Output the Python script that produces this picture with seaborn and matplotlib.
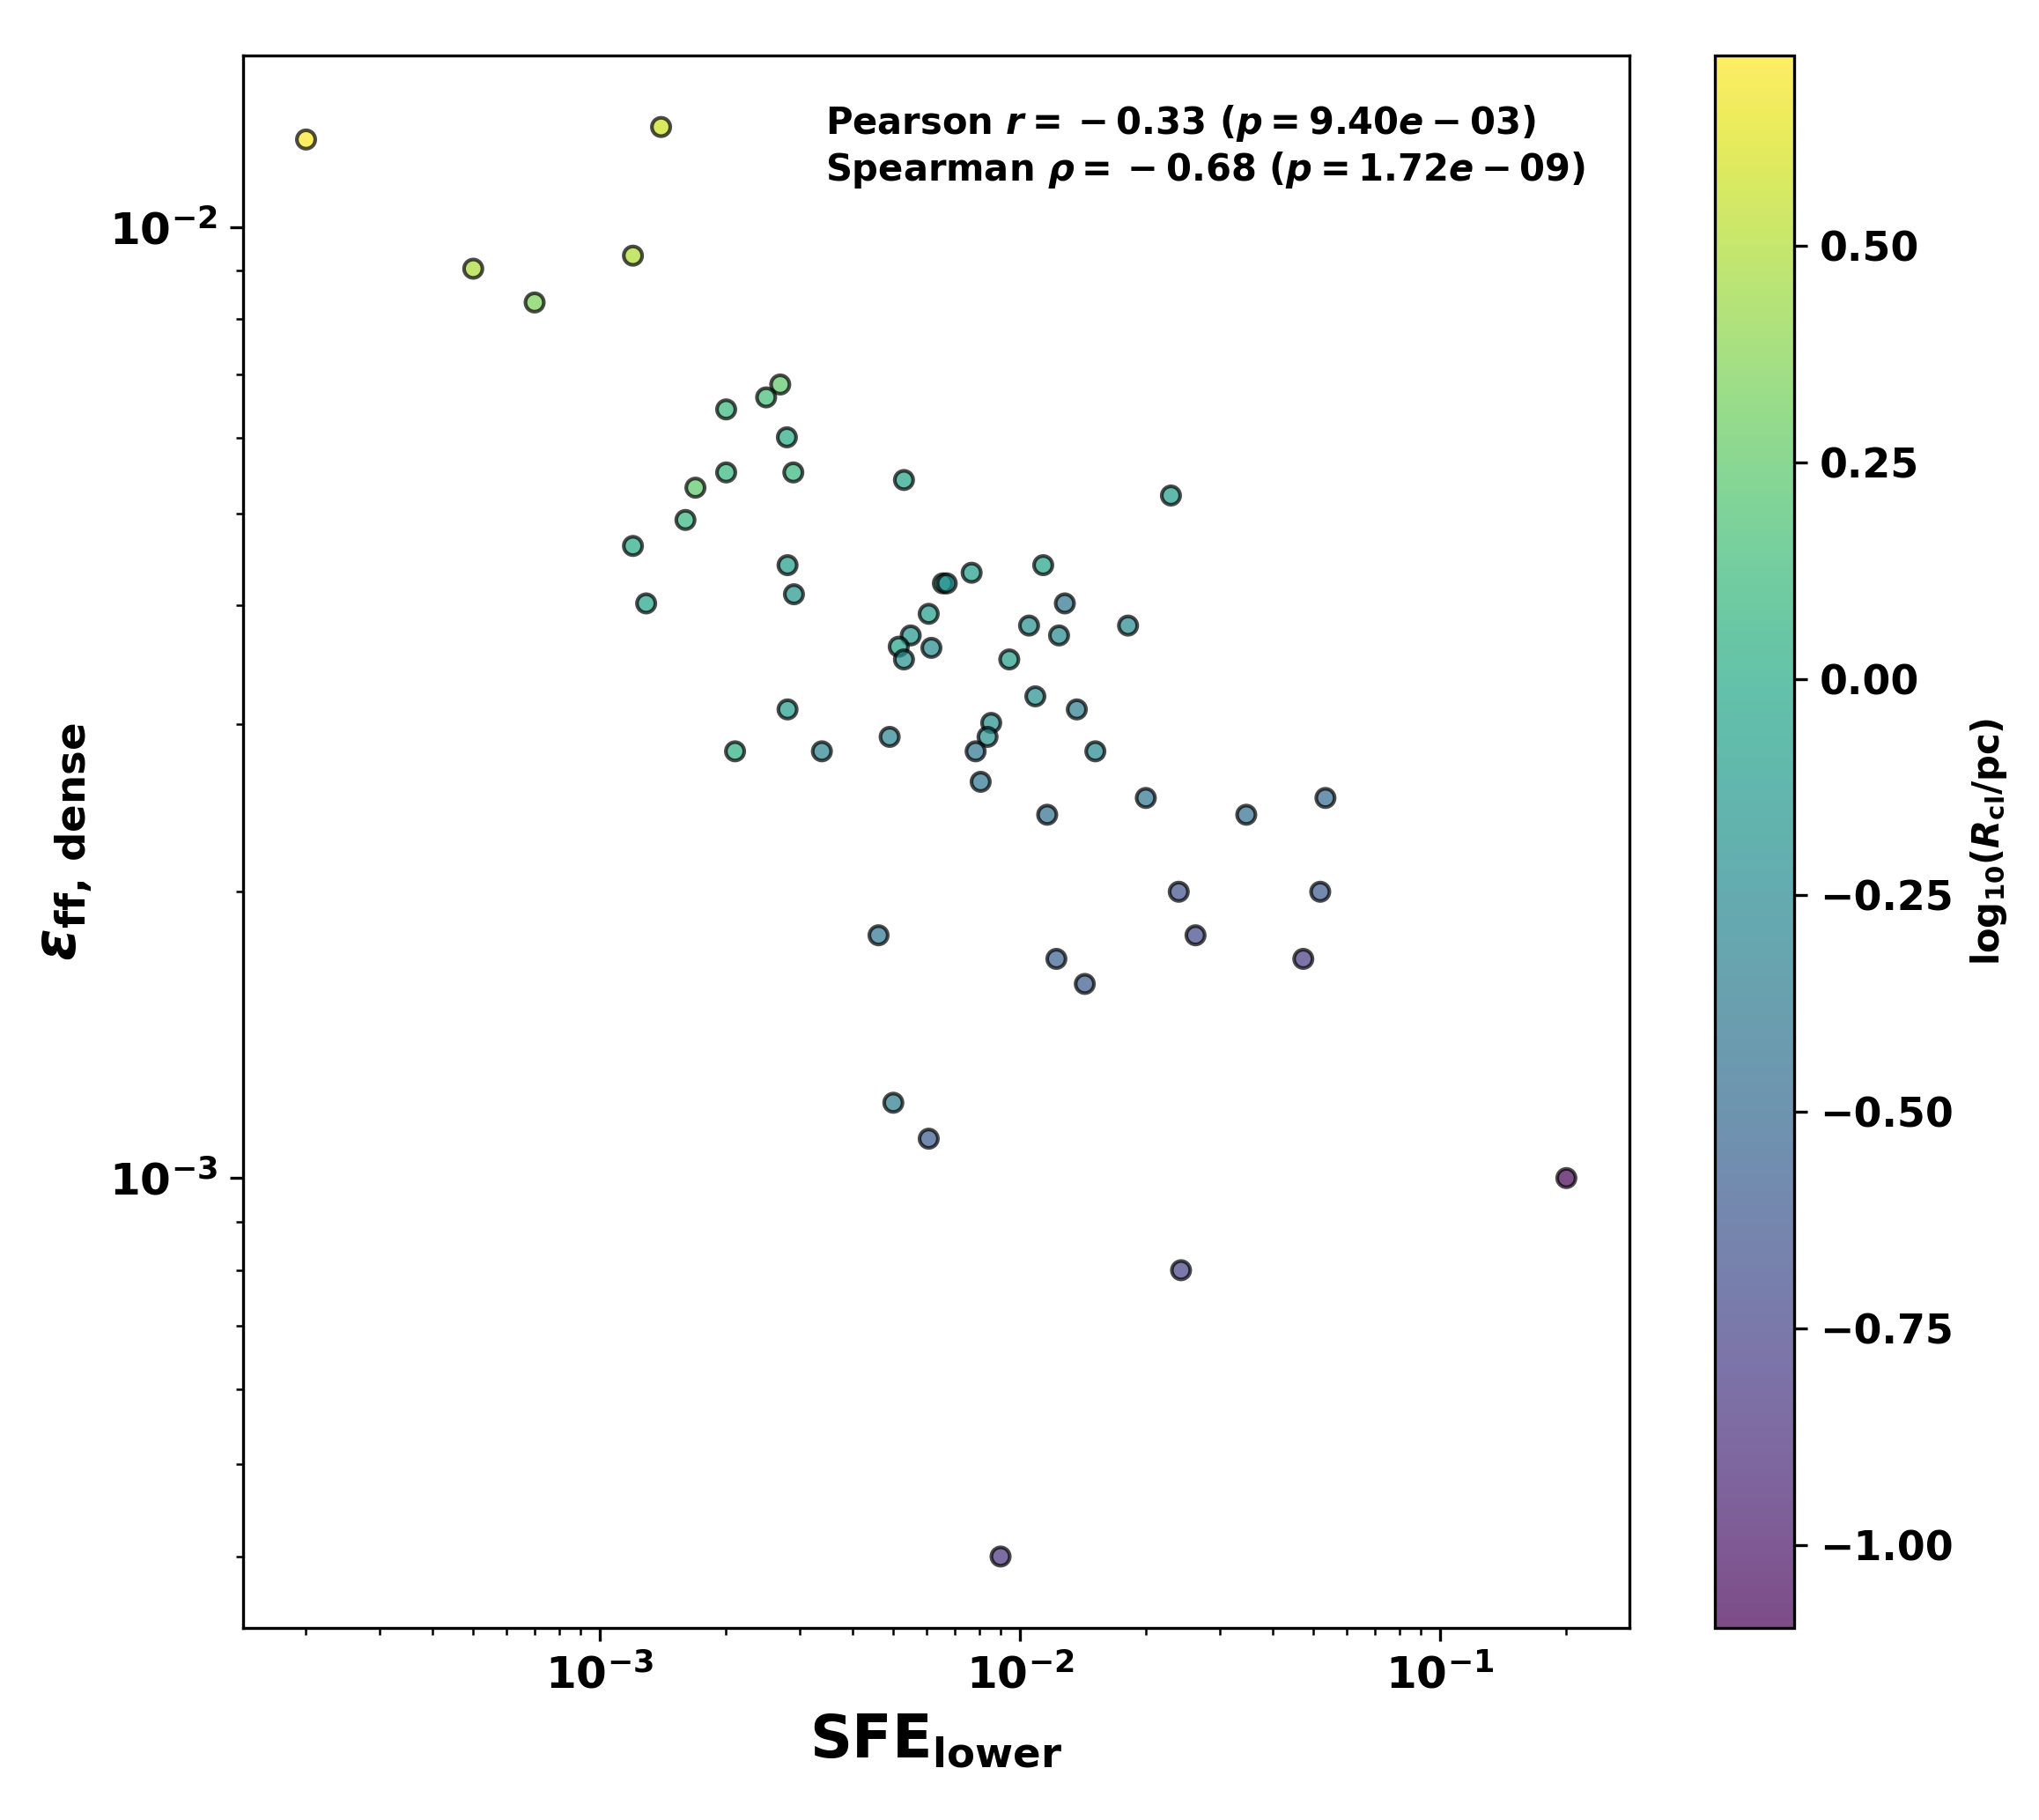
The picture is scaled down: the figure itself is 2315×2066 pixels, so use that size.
import numpy as np
import pandas as pd
import matplotlib
matplotlib.use("Agg")
import matplotlib.pyplot as plt
import seaborn as sns

# lower-limit SFE, efficiency per free-fall time in dense gas, log10 clump radius
sfe_lower = [2.0e-4, 1.40e-3, 5.0e-4, 1.2e-3, 7.0e-4, 2.69e-3, 2.49e-3, 2.0e-3, 2.79e-3, 2.0e-3,
             2.89e-3, 1.69e-3, 1.60e-3, 1.2e-3, 1.29e-3, 2.8e-3, 2.9e-3, 5.3e-3, 0.0229, 7.68e-3,
             6.56e-3, 6.70e-3, 0.01137, 6.07e-3, 0.0128, 0.01052, 0.0181, 5.5e-3, 0.0124, 5.15e-3,
             6.16e-3, 5.3e-3, 9.44e-3, 0.01089, 2.8e-3, 0.01367, 8.55e-3, 4.9e-3, 8.38e-3, 2.10e-3,
             3.38e-3, 7.85e-3, 0.01513, 8.07e-3, 0.01995, 0.0534, 0.01162, 0.0346, 0.0239, 0.0519,
             4.61e-3, 0.0262, 0.01222, 0.0473, 0.01428, 5.0e-3, 6.07e-3, 0.2, 0.0242, 9.0e-3]
eff_dense = [0.01236, 0.01274, 0.00904, 0.00933, 0.00833, 0.00683, 0.00662, 0.00643, 0.00601, 0.00552,
             0.00552, 0.00532, 0.00492, 0.00462, 0.00402, 0.00441, 0.00411, 0.00542, 0.00522, 0.00433,
             0.00422, 0.00422, 0.00441, 0.00392, 0.00402, 0.00381, 0.00381, 0.00372, 0.00372, 0.00362,
             0.00361, 0.00351, 0.00351, 0.00321, 0.00311, 0.00311, 0.00301, 0.00291, 0.00291, 0.00281,
             0.00281, 0.00281, 0.00281, 0.00261, 0.00251, 0.00251, 0.00241, 0.00241, 0.0020, 0.0020,
             0.0018, 0.0018, 0.0017, 0.0017, 0.0016, 0.0012, 0.0011, 0.0010, 0.0008, 0.0004]
log_rcl = [0.72, 0.58, 0.48, 0.50, 0.35, 0.25, 0.15, 0.10, 0.0, 0.10,
           0.10, 0.25, 0.10, 0.0, -0.05, -0.10, -0.15, -0.05, -0.10, -0.10,
           -0.10, -0.20, -0.05, -0.10, -0.40, -0.20, -0.25, -0.15, -0.25, -0.05,
           -0.25, -0.20, -0.10, -0.20, -0.10, -0.35, -0.20, -0.30, -0.20, 0.05,
           -0.30, -0.40, -0.25, -0.40, -0.40, -0.50, -0.45, -0.45, -0.65, -0.60,
           -0.40, -0.70, -0.55, -0.80, -0.60, -0.35, -0.60, -1.096, -0.75, -0.85]

stats_text = ("Pearson $r = {}-0.33$ ($p = 9.40e-03$)\n"
              "Spearman $\\rho = {}-0.68$ ($p = 1.72e-09$)")

plt.rcParams['font.weight'] = 'bold'
plt.rcParams['axes.labelweight'] = 'bold'
plt.rcParams['mathtext.fontset'] = 'custom'
plt.rcParams['mathtext.rm'] = 'DejaVu Sans:bold'
plt.rcParams['mathtext.bf'] = 'DejaVu Sans:bold'
plt.rcParams['mathtext.it'] = 'DejaVu Sans:italic:bold'
plt.rcParams['mathtext.sf'] = 'DejaVu Sans:bold'

df = pd.DataFrame({'sfe': sfe_lower, 'eff': eff_dense, 'rcl': log_rcl})
vmin, vmax = df['rcl'].min(), df['rcl'].max()

fig = plt.figure(figsize=(2315/300, 2066/300), dpi=300)
ax = fig.add_axes([0.1192, 0.1055, 0.6799, 0.8640])
cax = fig.add_axes([0.8410, 0.1055, 0.0389, 0.8640])

sns.scatterplot(data=df, x='sfe', y='eff', hue='rcl', palette='viridis',
                hue_norm=(vmin, vmax), s=25, alpha=0.7, edgecolor='k',
                linewidth=1.0, legend=False, ax=ax)
ax.set_xscale('log')
ax.set_yscale('log')

ax.set_xlabel(r'$\rm SFE_{lower}$', fontsize=16)
ax.set_ylabel(r'$\varepsilon_{\rm ff,\,dense}$', fontsize=16)
ax.tick_params(axis='both', which='major', labelsize=12)

ax.text(0.42, 0.97, stats_text, transform=ax.transAxes, ha='left', va='top',
        fontsize=10, fontweight='bold')

sm = plt.cm.ScalarMappable(cmap='viridis', norm=plt.Normalize(vmin, vmax))
cbar = fig.colorbar(sm, cax=cax, alpha=0.7)
cbar.set_label(r'log$_{10}$($R_{\rm cl}$/pc)', fontsize=10, fontweight='bold')
cbar.ax.tick_params(labelsize=11)

fig.savefig('out.png', dpi=300)
